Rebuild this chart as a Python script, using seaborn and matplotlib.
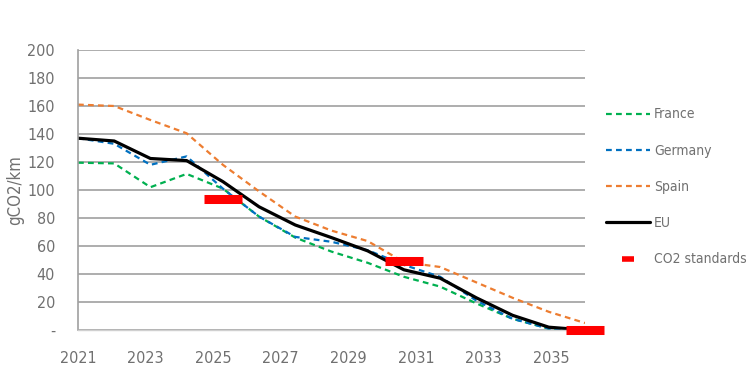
import matplotlib
matplotlib.use('Agg')
import matplotlib.pyplot as plt
from matplotlib.lines import Line2D
import seaborn as sns
import pandas as pd

years = list(range(2021, 2036))
france = [119.5, 119, 102, 111.5, 101, 81, 66, 56, 48, 38, 31, 19, 8, 1, 0]
germany = [137, 133, 118, 124, 101, 81, 66.5, 63, 57, 46.5, 38, 21, 8, 1, 0]
spain = [161, 160, 150, 140.5, 118, 99, 81, 71, 63.5, 48.5, 45, 34, 23, 13, 5]
eu = [137, 135, 122.5, 121, 106, 88, 75, 66, 56.5, 43, 37, 23, 10.5, 2, 0]
std_years = [2025, 2030, 2035]
std_values = [93.6, 49.5, 0]
tick_years = [2021, 2023, 2025, 2027, 2029, 2031, 2033, 2035]

df = pd.DataFrame({'Year': years, 'France': france, 'Germany': germany,
                   'Spain': spain, 'EU': eu})

sns.set_style('white')
plt.rcParams['font.family'] = ['DejaVu Sans']
plt.rcParams['font.stretch'] = 'condensed'
txt = '#707070'

fig = plt.figure(figsize=(7.47, 3.79), dpi=100)
ax = fig.add_axes([78/747, 1 - 330/379, (585 - 78)/747, 280/379])

dash = (2.6, 1.9)
sns.lineplot(data=df, x='Year', y='France', ax=ax, color='#00b050', lw=1.6)
ax.lines[-1].set_dashes(dash)
sns.lineplot(data=df, x='Year', y='Germany', ax=ax, color='#0070c0', lw=1.6)
ax.lines[-1].set_dashes(dash)
sns.lineplot(data=df, x='Year', y='Spain', ax=ax, color='#ed7d31', lw=1.6)
ax.lines[-1].set_dashes(dash)
sns.lineplot(data=df, x='Year', y='EU', ax=ax, color='black', lw=2.3)
ax.plot(std_years, std_values, ls='none', marker='_', color='#ff0000',
        markersize=27, mew=6.5, clip_on=False, zorder=5)

ax.set_xlim(2021, 2035)
ax.set_ylim(0, 200)
ax.set_yticks(range(0, 201, 20))
ax.set_yticklabels(['-'] + [str(v) for v in range(20, 201, 20)])
# the category labels sit slightly left of the points, as in the source
ax.set_xticks([2021 + (y - 2021) * 14 / 15 for y in tick_years])
ax.set_xticklabels([str(y) for y in tick_years])
ax.tick_params(axis='both', length=0, labelsize=11.5, colors=txt)
ax.tick_params(axis='x', pad=15)
ax.tick_params(axis='y', pad=16.5)
ax.set_xlabel('')
ax.set_ylabel('gCO2/km', fontsize=12, color=txt)
ax.yaxis.set_label_coords(-54/507, 0.5)
ax.grid(axis='y', color='#a0a0a0', lw=1.2)
ax.grid(axis='x', visible=False)
for s in ['top', 'right']:
    ax.spines[s].set_visible(False)
ax.spines['left'].set_color('#a0a0a0')
ax.spines['left'].set_linewidth(1.2)
ax.spines['bottom'].set_color('#d0d0d0')
ax.spines['bottom'].set_linewidth(1.0)

handles = [
    Line2D([], [], color='#00b050', lw=1.6, dashes=dash),
    Line2D([], [], color='#0070c0', lw=1.6, dashes=dash),
    Line2D([], [], color='#ed7d31', lw=1.6, dashes=dash),
    Line2D([], [], color='black', lw=2.3),
    Line2D([], [], ls='none', marker='_', color='#ff0000', markersize=8, mew=4),
]
labels = ['France', 'Germany', 'Spain', 'EU', 'CO2 standards']
leg = fig.legend(handles, labels, loc='upper left', bbox_to_anchor=(593/747, 1 - 95/379),
                 frameon=False, fontsize=10, handlelength=3.2, handletextpad=0.3,
                 labelspacing=1.6, labelcolor=txt)

fig.savefig('out.png', dpi=100)
